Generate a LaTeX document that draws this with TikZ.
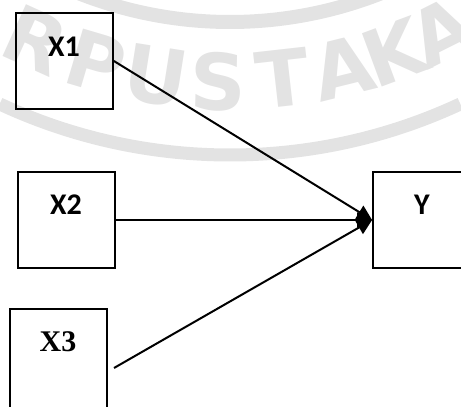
\documentclass[tikz,border=0pt]{standalone}
\usepackage{fontspec}
\setmainfont{Carlito}
\newfontfamily\timesfont{Liberation Serif}
\newfontfamily\wmfont{DejaVu Sans Bold}
\usetikzlibrary{arrows.meta}
\begin{document}
\begin{tikzpicture}[x=1pt,y=1pt,
  box/.style={draw,line width=1.8pt,minimum width=97pt,minimum height=96pt,inner sep=0pt},
  lbl/.style={inner sep=0pt,font=\fontsize{30}{30}\selectfont\bfseries},
  conn/.style={line width=2pt,-{Triangle[length=15pt,width=15pt]}},
  wm/.style={inner sep=0pt,text=black!11,font=\wmfont\fontsize{78}{78}\selectfont},
  band/.style={draw=black!11}]
\useasboundingbox (0,0) rectangle (461,407);
% watermark
\draw[band,line width=13pt] (230,797) ++(245:545) arc[start angle=245,end angle=295,radius=545];
\draw[band,line width=14pt] (230,797) ++(240:412) arc[start angle=240,end angle=300,radius=412];
\foreach \ch/\xx [count=\i] in {R/24,P/88,U/152,S/218,T/286,A/350,K/404,A/454} {
  \pgfmathsetmacro\ang{asin((\xx-230)/500)}
  \pgfmathsetmacro\yy{797-100*sqrt(25-((\xx-230)/100)^2)}
  \node[wm,rotate=\ang,anchor=base] (wm\i) at (\xx,\yy) {\ch};
}
% boxes
\node[box] (X1) at (64.5,346) {};
\node[box] (X2) at (66.5,187) {};
\node[box,minimum height=106pt] (X3) at (58.5,45) {};
\node[box] (Y) at (421.5,187) {};
% labels
\node[lbl] (tX1) at (64,360) {X1};
\node[lbl] (tX2) at (66,202) {X2};
\node[lbl] (tY) at (422,202) {Y};
\node[inner sep=0pt,font=\timesfont\fontsize{30}{30}\selectfont\bfseries] (tX3) at (58,65) {X3};
% connectors
\coordinate (x3out) at (114,39);
\draw[conn] (X1.east) -- (Y.west);
\draw[conn] (X2.east) -- (Y.west);
\draw[conn] (x3out) -- (Y.west);
\end{tikzpicture}
\end{document}
